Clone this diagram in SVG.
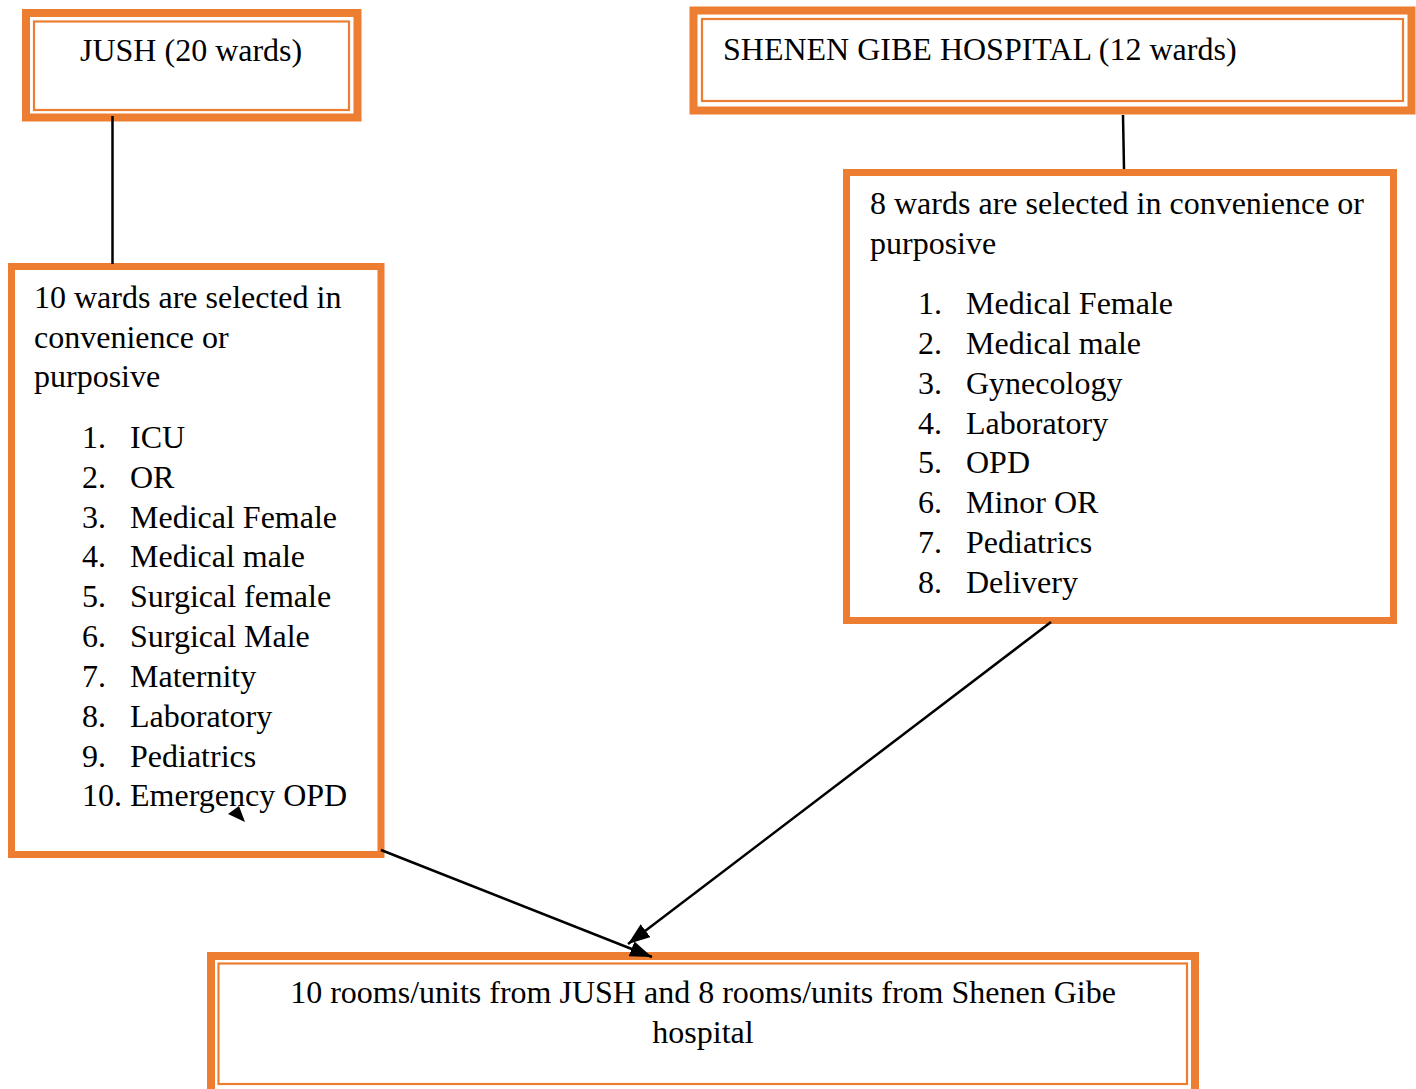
<svg xmlns="http://www.w3.org/2000/svg" width="1416" height="1089" viewBox="0 0 1416 1089">
<style>
  .thick { fill: none; stroke: #ED7D31; stroke-width: 8; }
  .thin { fill: none; stroke: #ED7D31; stroke-width: 2.2; }
  .box { fill: #FFFFFF; stroke: #ED7D31; stroke-width: 7; }
  .t { font-family: "Liberation Serif", "Times New Roman", serif; font-size: 32px; fill: #000000; }
  .c { text-anchor: middle; }
  .conn { fill: none; stroke: #000000; stroke-width: 2.5; }
</style>
<defs>
  <marker id="ah" markerUnits="userSpaceOnUse" markerWidth="24" markerHeight="18" refX="22" refY="8" orient="auto">
    <path d="M0,0 L22,8 L0,16 z" fill="#000000"/>
  </marker>
</defs>
<rect width="1416" height="1089" fill="#FFFFFF"/>

<g id="node-jush">
  <rect class="thick" x="26" y="13" width="331.5" height="104.5" fill="#FFFFFF"/>
  <rect class="thin" x="34" y="21.5" width="315" height="88.5"/>
  <text class="t" x="80" y="61">JUSH (20 wards)</text>
</g>

<g id="node-shenen">
  <rect class="thick" x="693.5" y="10.5" width="718" height="100" fill="#FFFFFF"/>
  <rect class="thin" x="702" y="19" width="701" height="82"/>
  <text class="t" x="723" y="60">SHENEN GIBE HOSPITAL (12 wards)</text>
</g>

<g id="node-jush-wards">
  <rect class="box" x="11.5" y="266.5" width="369.5" height="588"/>
  <text class="t" x="34" y="308">10 wards are selected in</text>
  <text class="t" x="34" y="348">convenience or</text>
  <text class="t" x="34" y="387">purposive</text>
  <text class="t" x="82" y="448">1.</text><text class="t" x="130" y="448">ICU</text>
  <text class="t" x="82" y="488">2.</text><text class="t" x="130" y="488">OR</text>
  <text class="t" x="82" y="528">3.</text><text class="t" x="130" y="528">Medical Female</text>
  <text class="t" x="82" y="567">4.</text><text class="t" x="130" y="567">Medical male</text>
  <text class="t" x="82" y="607">5.</text><text class="t" x="130" y="607">Surgical female</text>
  <text class="t" x="82" y="647">6.</text><text class="t" x="130" y="647">Surgical Male</text>
  <text class="t" x="82" y="687">7.</text><text class="t" x="130" y="687">Maternity</text>
  <text class="t" x="82" y="727">8.</text><text class="t" x="130" y="727">Laboratory</text>
  <text class="t" x="82" y="767">9.</text><text class="t" x="130" y="767">Pediatrics</text>
  <text class="t" x="82" y="806">10.</text><text class="t" x="130" y="806">Emergency OPD</text>
</g>

<g id="node-shenen-wards">
  <rect class="box" x="846.5" y="172.5" width="547" height="448"/>
  <text class="t" x="870" y="214">8 wards are selected in convenience or</text>
  <text class="t" x="870" y="254">purposive</text>
  <text class="t" x="918" y="314">1.</text><text class="t" x="966" y="314">Medical Female</text>
  <text class="t" x="918" y="354">2.</text><text class="t" x="966" y="354">Medical male</text>
  <text class="t" x="918" y="394">3.</text><text class="t" x="966" y="394">Gynecology</text>
  <text class="t" x="918" y="434">4.</text><text class="t" x="966" y="434">Laboratory</text>
  <text class="t" x="918" y="473">5.</text><text class="t" x="966" y="473">OPD</text>
  <text class="t" x="918" y="513">6.</text><text class="t" x="966" y="513">Minor OR</text>
  <text class="t" x="918" y="553">7.</text><text class="t" x="966" y="553">Pediatrics</text>
  <text class="t" x="918" y="593">8.</text><text class="t" x="966" y="593">Delivery</text>
</g>

<g id="node-result">
  <rect class="thick" x="211" y="956" width="984" height="140" fill="#FFFFFF"/>
  <rect class="thin" x="218.5" y="963.5" width="968.5" height="120.5"/>
  <text class="t c" x="703" y="1003">10 rooms/units from JUSH and 8 rooms/units from Shenen Gibe</text>
  <text class="t c" x="703" y="1043">hospital</text>
</g>

<g id="connectors">
  <line class="conn" x1="112.5" y1="116" x2="112.5" y2="264"/>
  <line class="conn" x1="1123" y1="115" x2="1124" y2="169"/>
  <line class="conn" x1="381" y1="850" x2="652" y2="957" marker-end="url(#ah)"/>
  <line class="conn" x1="1051" y1="622" x2="628" y2="944" marker-end="url(#ah)"/>
  <polygon points="239,806 228,814 245,822" fill="#000000"/>
</g>
</svg>
